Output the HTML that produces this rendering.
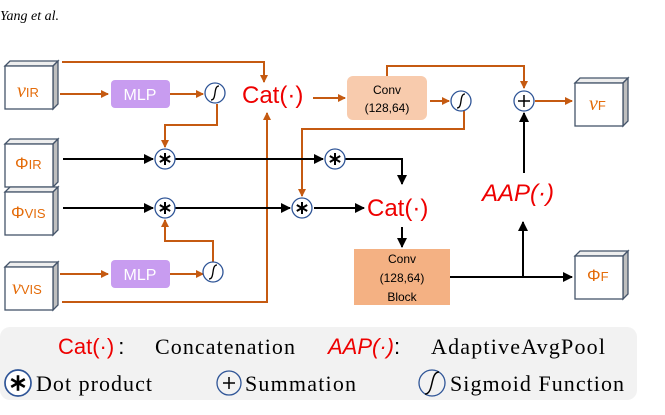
<!DOCTYPE html>
<html><head><meta charset="utf-8"><style>
body{margin:0;background:#fff;width:665px;height:415px;overflow:hidden}
svg{display:block}
.hd{font-family:"Liberation Sans",sans-serif}
.sr{font-family:"Liberation Serif",serif}
</style></head><body>
<svg width="665" height="415" viewBox="0 0 665 415" xmlns="http://www.w3.org/2000/svg">
<defs>
<marker id="ao" markerWidth="8" markerHeight="8" refX="7" refY="4" orient="auto" markerUnits="userSpaceOnUse"><path d="M0,0 L8,4 L0,8z" fill="#c55a11"/></marker>
<marker id="ab" markerWidth="10" markerHeight="10" refX="9" refY="5" orient="auto" markerUnits="userSpaceOnUse"><path d="M0,0 L10,5 L0,10z" fill="#000"/></marker>
<g id="cube"><path d="M0,5 L5,0 L53,0 L48,5z" fill="#eee" stroke="#44546a" stroke-width="1.3"/><path d="M48,5 L53,0 L53,43 L48,48z" fill="#bfbfbf" stroke="#44546a" stroke-width="1.3"/><rect x="0" y="5" width="48" height="43" fill="#fff" stroke="#44546a" stroke-width="1.3"/></g>
<g id="sig"><circle r="10" fill="#fff" stroke="#2f5597" stroke-width="1.3"/><path d="M-4,7 C2,7 -2,-7 4,-7" fill="none" stroke="#000" stroke-width="1.3"/></g>
<g id="dot"><circle r="10" fill="#fff" stroke="#2f5597" stroke-width="1.3"/><g stroke="#000" stroke-width="2"><path d="M0,-6 V6 M-5.2,-3 L5.2,3 M-5.2,3 L5.2,-3"/></g></g>
</defs>
<text x="0" y="20" class="sr" font-style="italic" font-size="14">Yang et al.</text>

<use href="#cube" x="5" y="61"/><use href="#cube" x="5" y="139"/><use href="#cube" x="5" y="187"/><use href="#cube" x="5" y="262"/>
<use href="#cube" x="575" y="78"/><use href="#cube" x="575" y="251"/>
<g fill="#e46c0a">
<text x="17" y="97" class="sr" font-size="20" font-style="italic">v<tspan class="hd" font-size="13" font-style="normal">IR</tspan></text>
<text x="15" y="169" class="hd" font-size="17">Φ<tspan font-size="13">IR</tspan></text>
<text x="11" y="218" class="hd" font-size="17">Φ<tspan font-size="13">VIS</tspan></text>
<text x="12" y="294" class="sr" font-size="20" font-style="italic">v<tspan class="hd" font-size="13" font-style="normal">VIS</tspan></text>
<text x="589" y="110" class="sr" font-size="20" font-style="italic">v<tspan class="hd" font-size="13" font-style="normal">F</tspan></text>
<text x="587" y="281" class="hd" font-size="17">Φ<tspan font-size="13">F</tspan></text>
</g>

<rect x="111" y="80" width="59" height="28" rx="4" fill="#c89cf0"/>
<rect x="111" y="260" width="59" height="28" rx="4" fill="#c89cf0"/>
<text x="140" y="100" class="hd" fill="#fff" font-size="16" text-anchor="middle">MLP</text>
<text x="140" y="280" class="hd" fill="#fff" font-size="16" text-anchor="middle">MLP</text>

<g stroke="#c55a11" stroke-width="2" fill="none">
<path d="M60,94 H108" marker-end="url(#ao)"/>
<path d="M170,94 H203" marker-end="url(#ao)"/>
<path d="M60,274 H108" marker-end="url(#ao)"/>
<path d="M170,274 H203" marker-end="url(#ao)"/>
<path d="M62,62 H264 V82" marker-end="url(#ao)"/>
<path d="M62,302 H267 V113" marker-end="url(#ao)"/>
<path d="M217,104 V125 H165 V147" marker-end="url(#ao)"/>
<path d="M213,263 V241 H165 V220" marker-end="url(#ao)"/>
<path d="M313,98 H345" marker-end="url(#ao)"/>
<path d="M430,101 H449" marker-end="url(#ao)"/>
<path d="M464,111 V129 H302 V196" marker-end="url(#ao)"/>
<path d="M387,76 V66 H524 V88" marker-end="url(#ao)"/>
<path d="M535,101 H572" marker-end="url(#ao)"/>
</g>
<g stroke="#000" stroke-width="2" fill="none">
<path d="M63,159 H153" marker-end="url(#ab)"/>
<path d="M175,159 H323" marker-end="url(#ab)"/>
<path d="M63,208 H153" marker-end="url(#ab)"/>
<path d="M175,208 H290" marker-end="url(#ab)"/>
<path d="M314,208 H364" marker-end="url(#ab)"/>
<path d="M345,159 H402 V184" marker-end="url(#ab)"/>
<path d="M402,227 V247" marker-end="url(#ab)"/>
<path d="M450,277 H572" marker-end="url(#ab)"/>
<path d="M523,277 V222" marker-end="url(#ab)"/>
<path d="M524,173 V113" marker-end="url(#ab)"/>
</g>

<use href="#sig" x="215" y="93"/><use href="#sig" x="213" y="272"/><use href="#sig" x="461" y="101"/>
<use href="#dot" x="165" y="159"/><use href="#dot" x="165" y="208"/><use href="#dot" x="335" y="159"/><use href="#dot" x="302" y="208"/>
<circle cx="524" cy="101" r="10" fill="#fff" stroke="#2f5597" stroke-width="1.3"/>
<path d="M518,101 H530 M524,95 V107" stroke="#000" stroke-width="1.5"/>

<rect x="347" y="76" width="80" height="44" rx="6" fill="#f8cbad"/>
<text x="387" y="94" text-anchor="middle" font-size="12" class="hd">Conv</text>
<text x="387" y="112" text-anchor="middle" font-size="12" class="hd">(128,64)</text>
<rect x="354" y="249" width="96" height="56" fill="#f4b183"/>
<text x="402" y="263" text-anchor="middle" font-size="12" class="hd">Conv</text>
<text x="402" y="282" text-anchor="middle" font-size="12" class="hd">(128,64)</text>
<text x="402" y="301" text-anchor="middle" font-size="12" class="hd">Block</text>

<g class="hd" fill="#e00" font-size="24">
<text x="242" y="103">Cat(·)</text>
<text x="367" y="216">Cat(·)</text>
<text x="482" y="201" font-style="italic">AAP(·)</text>
</g>

<rect x="0" y="327" width="637" height="73" rx="10" fill="#f2f2f2"/>
<text x="58" y="354" class="hd" fill="#e00" font-size="22">Cat(·)<tspan fill="#000" dx="4">:</tspan></text>
<text x="155" y="354" class="sr" font-size="22" textLength="140">Concatenation</text>
<text x="328" y="354" class="hd" fill="#e00" font-size="22" font-style="italic">AAP(·)<tspan fill="#000" font-style="normal">:</tspan></text>
<text x="431" y="354" class="sr" font-size="22" textLength="174">AdaptiveAvgPool</text>
<g transform="translate(18,383) scale(1.3)"><use href="#dot"/></g>
<text x="36" y="391" class="sr" font-size="22" textLength="116">Dot product</text>
<circle cx="229" cy="383" r="12" fill="none" stroke="#2f5597" stroke-width="1.3"/>
<path d="M223,383 H235 M229,377 V389" stroke="#000" stroke-width="1.5"/>
<text x="245" y="391" class="sr" font-size="22" textLength="111">Summation</text>
<circle cx="432" cy="383" r="13" fill="none" stroke="#2f5597" stroke-width="1.3"/>
<path d="M425,394 C434,394 430,372 439,372" fill="none" stroke="#000" stroke-width="1.5"/>
<text x="450" y="391" class="sr" font-size="22" textLength="174">Sigmoid Function</text>
</svg>
</body></html>
